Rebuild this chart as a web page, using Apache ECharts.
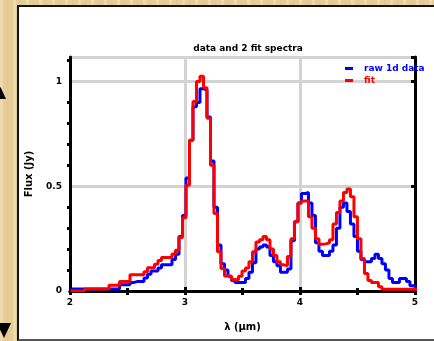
<!DOCTYPE html>
<html>
<head>
<meta charset="utf-8">
<script src="https://cdn.jsdelivr.net/npm/echarts@6/dist/echarts.min.js"></script>
<style>
  html, body { margin: 0; padding: 0; width: 434px; height: 341px; overflow: hidden; }
  body {
    background-color: #e6cd98;
    background-image:
      repeating-linear-gradient(90deg, rgba(255,248,220,0.30) 0 3px, rgba(0,0,0,0) 3px 7px, rgba(170,130,70,0.10) 7px 8px, rgba(0,0,0,0) 8px 13px);
    position: relative;
  }
  #panel { position: absolute; left: 17px; top: 5px; width: 440px; height: 332px; background: #fff;
           border-left: 2px solid #111; border-top: 2px solid #111; border-bottom: 2px solid #555; }
  #chart { position: absolute; left: 0; top: 0; width: 434px; height: 341px; }
</style>
</head>
<body>
<div id="panel"></div>
<div id="chart"></div>
<script>
// ---- data ----
const titleText = 'data and 2 fit spectra';
const xName = 'λ (μm)';
const yName = 'Flux (Jy)';
const seriesNames = ['raw 1d data', 'fit'];
const xTicks = [2, 3, 4, 5];
const yTicks = [0, 0.5, 1];
const binStart = 2.0043;   // left edge of first bin (μm)
const binWidth = 0.03043;  // bin width (μm)
const dataValues = [
  0.01,0.01,0.01,0.01,0.01,0.01,0.01,0.01,0.01,0.01,0.01,0.01,0.01,0.01,
  0.03,0.03,0.03,
  0.04,0.045,0.045,0.045,
  0.062,0.08,0.095,0.095,0.11,
  0.125,0.125,0.125,0.15,0.175,
  0.26,0.36,0.54,0.72,0.88,
  0.9,0.965,0.96,0.83,0.62,
  0.4,0.22,0.13,0.1,0.07,
  0.05,0.04,0.04,0.04,0.06,
  0.09,0.135,0.2,0.21,0.22,
  0.21,0.17,0.14,0.12,0.09,
  0.09,0.105,0.24,0.33,0.42,
  0.465,0.47,0.42,0.36,0.23,
  0.19,0.17,0.17,0.19,0.22,
  0.3,0.4,0.42,0.38,0.32,
  0.26,0.19,0.15,0.14,0.14,
  0.155,0.175,0.155,0.13,0.1,
  0.06,0.04,0.04,0.06,0.06,
  0.045,0.025,0.02
];
const fitValues = [
  0,0,0,0,
  0.01,0.01,0.01,0.01,0.01,0.01,0.01,
  0.027,0.027,0.027,
  0.045,0.045,0.045,
  0.078,0.078,0.078,0.078,
  0.092,0.111,0.111,0.128,0.145,
  0.16,0.16,0.16,0.177,0.195,
  0.255,0.35,0.505,0.72,0.905,
  1.0,1.025,0.97,0.825,0.6,
  0.37,0.187,0.107,0.072,0.07,
  0.055,0.053,0.07,0.095,0.11,
  0.14,0.187,0.234,0.245,0.26,
  0.245,0.2,0.17,0.14,0.125,
  0.12,0.165,0.25,0.33,0.42,
  0.43,0.43,0.355,0.30,0.25,
  0.223,0.225,0.23,0.245,0.32,
  0.375,0.43,0.47,0.487,0.45,
  0.355,0.25,0.155,0.083,0.05,
  0.04,0.04,0.02,
  0.008,0.008,0.008,0.008,0.008,0.008,0.008,0.008,0.008,0.008
];

function toSteps(vals) {
  const pts = vals.map((v, i) => [binStart + i * binWidth, v]);
  pts.push([binStart + vals.length * binWidth, vals[vals.length - 1]]);
  return pts;
}

const FONT = 'DejaVu Sans';
const xMin = xTicks[0], xMax = xTicks[xTicks.length - 1];
const yMin = yTicks[0], yMax = 1.117;

const chart = echarts.init(document.getElementById('chart'), null, { renderer: 'canvas' });
chart.setOption({
  animation: false,
  backgroundColor: 'transparent',
  title: {
    text: titleText, left: 243, top: 39, textAlign: 'center',
    textStyle: { fontFamily: FONT, fontSize: 9, fontWeight: 'bold', color: '#000' }
  },
  legend: {
    left: 340, top: 59, orient: 'vertical', icon: 'rect',
    itemWidth: 8, itemHeight: 3, itemGap: 3,
    textStyle: { fontFamily: FONT, fontSize: 9, fontWeight: 'bold', padding: [0, 0, 0, 6] },
    data: [
      { name: seriesNames[0], textStyle: { color: '#0000ff' } },
      { name: seriesNames[1], textStyle: { color: '#ff0000' } }
    ]
  },
  grid: { left: 70, right: 19, top: 57, bottom: 50, containLabel: false },
  xAxis: [
    {
      type: 'value', min: xMin, max: xMax, interval: 1, position: 'bottom',
      name: xName, nameLocation: 'middle', nameGap: 31,
      nameTextStyle: { fontFamily: FONT, fontSize: 10, fontWeight: 'bold', color: '#000' },
      axisLine: { show: true, lineStyle: { color: '#000', width: 3 } },
      axisTick: { show: true, inside: true, length: 4, lineStyle: { color: '#000', width: 3 } },
      minorTick: { show: true, splitNumber: 2, length: 3, lineStyle: { color: '#000', width: 3 } },
      axisLabel: { color: '#000', fontFamily: FONT, fontSize: 9, fontWeight: 'bold', margin: 7 },
      splitLine: { show: true, lineStyle: { color: '#d3d3d3', width: 3 } }
    },
    {
      type: 'value', min: xMin, max: xMax, interval: 0.5, position: 'top',
      axisLine: { show: true, lineStyle: { color: '#000', width: 3 } },
      axisTick: { show: true, inside: true, length: 4, lineStyle: { color: '#000', width: 3 } },
      axisLabel: { show: false },
      splitLine: { show: false }
    }
  ],
  yAxis: [
    {
      type: 'value', min: yMin, max: yMax, interval: 0.5, position: 'left',
      name: yName, nameLocation: 'middle', nameGap: 36,
      nameTextStyle: { fontFamily: FONT, fontSize: 10, fontWeight: 'bold', color: '#000' },
      axisLine: { show: true, lineStyle: { color: '#000', width: 3 } },
      axisTick: { show: false },
      minorTick: { show: true, splitNumber: 5, length: 3, lineStyle: { color: '#000', width: 3 } },
      axisLabel: { color: '#000', fontFamily: FONT, fontSize: 9, fontWeight: 'bold', margin: 8, showMaxLabel: false },
      splitLine: { show: true, lineStyle: { color: '#d3d3d3', width: 3 } }
    },
    {
      type: 'value', min: yMin, max: yMax, interval: 0.5, position: 'right',
      axisLine: { show: true, lineStyle: { color: '#000', width: 3 } },
      axisTick: { show: true, inside: true, length: 4, lineStyle: { color: '#000', width: 3 } },
      axisLabel: { show: false },
      splitLine: { show: false }
    }
  ],
  graphic: [
    { type: 'polygon', shape: { points: [[-5, 99], [0.5, 87], [6, 99]] }, style: { fill: '#000' }, silent: true },
    { type: 'polygon', shape: { points: [[-3, 323], [11, 323], [4, 338]] }, style: { fill: '#000' }, silent: true }
  ],
  series: [
    {
      name: seriesNames[0], type: 'line', step: 'end', xAxisIndex: 0, yAxisIndex: 0,
      data: toSteps(dataValues), showSymbol: false, symbol: 'none',
      lineStyle: { color: '#0000ff', width: 3 }, itemStyle: { color: '#0000ff' }, z: 3
    },
    {
      name: seriesNames[1], type: 'line', step: 'end', xAxisIndex: 0, yAxisIndex: 0,
      data: toSteps(fitValues), showSymbol: false, symbol: 'none',
      lineStyle: { color: '#ff0000', width: 3 }, itemStyle: { color: '#ff0000' }, z: 4
    }
  ]
});
</script>
</body>
</html>
